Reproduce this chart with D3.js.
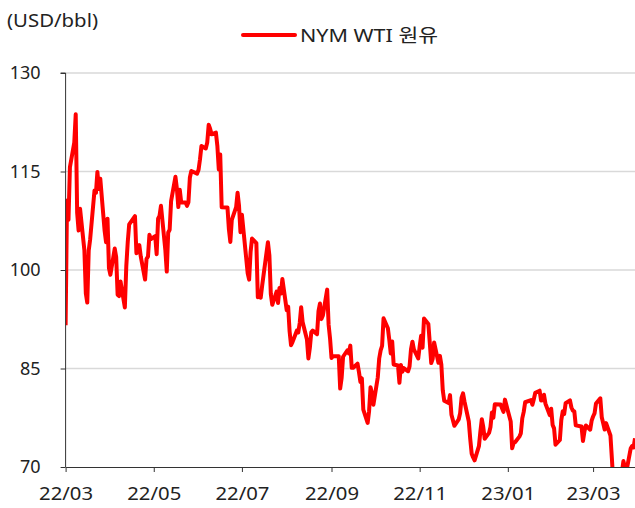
<!DOCTYPE html>
<html>
<head>
<meta charset="utf-8">
<script src="https://cdn.jsdelivr.net/npm/d3@7"></script>
<style>
  body { margin: 0; background: #fff; }
  svg text { font-family: "Noto Sans", "Noto Sans CJK KR", sans-serif; fill: #222; }
</style>
</head>
<body>
<div id="chart"></div>
<script>
// WTI daily close, USD/bbl
var mar22 = ["2022-03-01",91.6,"2022-03-02",110.6,"2022-03-03",107.67,"2022-03-04",115.68,"2022-03-07",119.4,"2022-03-08",123.7,"2022-03-09",108.7,"2022-03-10",106.02,"2022-03-11",109.33,"2022-03-14",103.01,"2022-03-15",96.44,"2022-03-16",95.04,"2022-03-17",102.98,"2022-03-18",104.7,"2022-03-21",112.12,"2022-03-22",111.76,"2022-03-23",114.93,"2022-03-24",112.34,"2022-03-25",113.9,"2022-03-28",105.96,"2022-03-29",104.24,"2022-03-30",107.82,"2022-03-31",100.28];
var apr22 = ["2022-04-01",99.27,"2022-04-04",103.28,"2022-04-05",101.96,"2022-04-06",96.23,"2022-04-07",96.03,"2022-04-08",98.26,"2022-04-11",94.29,"2022-04-12",100.6,"2022-04-13",104.25,"2022-04-14",106.95,"2022-04-18",108.21,"2022-04-19",102.56,"2022-04-20",102.75,"2022-04-21",103.79,"2022-04-22",102.07,"2022-04-25",98.54,"2022-04-26",101.7,"2022-04-27",102.02,"2022-04-28",105.36,"2022-04-29",104.69];
var may22 = ["2022-05-02",105.17,"2022-05-03",102.41,"2022-05-04",107.81,"2022-05-05",108.26,"2022-05-06",109.77,"2022-05-09",103.09,"2022-05-10",99.76,"2022-05-11",105.71,"2022-05-12",106.13,"2022-05-13",110.49,"2022-05-16",114.2,"2022-05-17",112.4,"2022-05-18",109.59,"2022-05-19",112.21,"2022-05-20",110.28,"2022-05-23",110.29,"2022-05-24",109.77,"2022-05-25",110.33,"2022-05-26",114.09,"2022-05-27",115.07,"2022-05-31",114.67];
var jun22 = ["2022-06-01",115.26,"2022-06-02",116.87,"2022-06-03",118.87,"2022-06-06",118.5,"2022-06-07",119.41,"2022-06-08",122.11,"2022-06-09",121.51,"2022-06-10",120.67,"2022-06-13",120.93,"2022-06-14",118.93,"2022-06-15",115.31,"2022-06-16",117.59,"2022-06-17",109.56,"2022-06-21",109.52,"2022-06-22",106.19,"2022-06-23",104.27,"2022-06-24",107.62,"2022-06-27",109.57,"2022-06-28",111.76,"2022-06-29",109.78,"2022-06-30",105.76];
var jul22 = ["2022-07-01",108.43,"2022-07-05",99.5,"2022-07-06",98.53,"2022-07-07",102.73,"2022-07-08",104.79,"2022-07-11",104.09,"2022-07-12",95.84,"2022-07-13",96.3,"2022-07-14",95.78,"2022-07-15",97.59,"2022-07-18",102.6,"2022-07-19",104.22,"2022-07-20",102.26,"2022-07-21",96.35,"2022-07-22",94.7,"2022-07-25",96.7,"2022-07-26",94.98,"2022-07-27",97.26,"2022-07-28",96.42,"2022-07-29",98.62];
var aug22 = ["2022-08-01",93.89,"2022-08-02",94.42,"2022-08-03",90.66,"2022-08-04",88.54,"2022-08-05",89.01,"2022-08-08",90.76,"2022-08-09",90.5,"2022-08-10",91.93,"2022-08-11",94.34,"2022-08-12",92.09,"2022-08-15",89.41,"2022-08-16",86.53,"2022-08-17",88.11,"2022-08-18",90.5,"2022-08-19",90.77,"2022-08-22",90.23,"2022-08-23",93.74,"2022-08-24",94.89,"2022-08-25",92.52,"2022-08-26",93.06,"2022-08-29",97.01,"2022-08-30",91.64,"2022-08-31",89.55];
var sep22 = ["2022-09-01",86.61,"2022-09-02",86.87,"2022-09-06",86.88,"2022-09-07",81.94,"2022-09-08",83.54,"2022-09-09",86.79,"2022-09-12",87.78,"2022-09-13",87.31,"2022-09-14",88.48,"2022-09-15",85.1,"2022-09-16",85.11,"2022-09-19",85.73,"2022-09-20",84.45,"2022-09-21",82.94,"2022-09-22",83.49,"2022-09-23",78.74,"2022-09-26",76.71,"2022-09-27",78.5,"2022-09-28",82.15,"2022-09-29",81.23,"2022-09-30",79.49];
var oct22 = ["2022-10-03",83.63,"2022-10-04",86.52,"2022-10-05",87.76,"2022-10-06",88.45,"2022-10-07",92.64,"2022-10-10",91.13,"2022-10-11",89.35,"2022-10-12",87.27,"2022-10-13",89.11,"2022-10-14",85.61,"2022-10-17",85.46,"2022-10-18",82.82,"2022-10-19",85.55,"2022-10-20",84.51,"2022-10-21",85.05,"2022-10-24",84.58,"2022-10-25",85.32,"2022-10-26",87.91,"2022-10-27",89.08,"2022-10-28",87.9,"2022-10-31",86.53];
var nov22 = ["2022-11-01",88.37,"2022-11-02",90.0,"2022-11-03",88.17,"2022-11-04",92.61,"2022-11-07",91.79,"2022-11-08",88.91,"2022-11-09",85.83,"2022-11-10",86.47,"2022-11-11",88.96,"2022-11-14",85.87,"2022-11-15",86.92,"2022-11-16",85.59,"2022-11-17",81.64,"2022-11-18",80.08,"2022-11-21",79.73,"2022-11-22",80.95,"2022-11-23",77.94,"2022-11-25",76.28,"2022-11-28",77.24,"2022-11-29",78.2,"2022-11-30",80.55];
var dec22 = ["2022-12-01",81.22,"2022-12-02",79.98,"2022-12-05",76.93,"2022-12-06",74.25,"2022-12-07",72.01,"2022-12-08",71.46,"2022-12-09",71.02,"2022-12-12",73.17,"2022-12-13",75.39,"2022-12-14",77.28,"2022-12-15",76.11,"2022-12-16",74.29,"2022-12-19",75.19,"2022-12-20",76.09,"2022-12-21",78.29,"2022-12-22",77.49,"2022-12-23",79.56,"2022-12-27",79.53,"2022-12-28",78.96,"2022-12-29",78.4,"2022-12-30",80.26];
var jan23 = ["2023-01-03",76.93,"2023-01-04",72.84,"2023-01-05",73.67,"2023-01-06",73.77,"2023-01-09",74.63,"2023-01-10",75.12,"2023-01-11",77.41,"2023-01-12",78.39,"2023-01-13",79.86,"2023-01-17",80.18,"2023-01-18",79.48,"2023-01-19",80.33,"2023-01-20",81.31,"2023-01-23",81.62,"2023-01-24",80.13,"2023-01-25",80.15,"2023-01-26",81.01,"2023-01-27",79.68,"2023-01-30",77.9,"2023-01-31",78.87];
var feb23 = ["2023-02-01",76.41,"2023-02-02",75.88,"2023-02-03",73.39,"2023-02-06",74.11,"2023-02-07",77.14,"2023-02-08",78.47,"2023-02-09",78.06,"2023-02-10",79.72,"2023-02-13",80.14,"2023-02-14",79.06,"2023-02-15",78.59,"2023-02-16",78.49,"2023-02-17",76.34,"2023-02-21",76.16,"2023-02-22",73.95,"2023-02-23",75.39,"2023-02-24",76.32,"2023-02-27",75.68,"2023-02-28",77.05];
var mar23 = ["2023-03-01",77.69,"2023-03-02",78.16,"2023-03-03",79.68,"2023-03-06",80.46,"2023-03-07",77.58,"2023-03-08",76.66,"2023-03-09",75.72,"2023-03-10",76.68,"2023-03-13",74.8,"2023-03-14",71.33,"2023-03-15",67.61,"2023-03-16",68.35,"2023-03-17",66.74,"2023-03-20",67.64,"2023-03-21",69.33,"2023-03-22",70.9,"2023-03-23",69.96,"2023-03-24",69.26,"2023-03-27",72.81,"2023-03-28",73.2,"2023-03-29",72.97,"2023-03-30",74.37];

var yTicks = [70, 85, 100, 115, 130];
var xTicks = ["2022-03-01","2022-05-01","2022-07-01","2022-09-01","2022-11-01","2023-01-01","2023-03-01"];
var unitLabel = "(USD/bbl)";
var seriesName = "NYM WTI 원유";

var parse = d3.timeParse("%Y-%m-%d");
var data = [];
[mar22, apr22, may22, jun22, jul22, aug22, sep22, oct22, nov22, dec22, jan23, feb23, mar23].forEach(function (m) {
  for (var i = 0; i < m.length; i += 2) data.push({ date: parse(m[i]), value: m[i + 1] });
});

var width = 635, height = 508;
var margin = { top: 73, right: 0, bottom: 41, left: 65.6 };

var svg = d3.select("#chart").append("svg")
  .attr("width", width)
  .attr("height", height);

var x = d3.scaleTime()
  .domain([parse("2022-03-01"), parse("2023-03-30")])
  .range([margin.left, width - margin.right]);
var y = d3.scaleLinear()
  .domain([70, 130])
  .range([height - margin.bottom, margin.top]);

// gridlines
svg.append("g")
  .selectAll("line")
  .data(yTicks.filter(function (d) { return d > 70; }))
  .enter()
  .append("line")
  .attr("x1", margin.left)
  .attr("x2", width - margin.right)
  .attr("y1", function (d) { return y(d); })
  .attr("y2", function (d) { return y(d); })
  .style("stroke", "#d9d9d9")
  .style("stroke-width", 1.5);

// line
svg.append("clipPath").attr("id", "plotclip")
  .append("rect")
  .attr("x", margin.left)
  .attr("y", 0)
  .attr("width", width - margin.left)
  .attr("height", height - margin.bottom);

var line = d3.line()
  .x(function (d) { return x(d.date); })
  .y(function (d) { return y(d.value); });

svg.append("path")
  .datum(data)
  .attr("clip-path", "url(#plotclip)")
  .attr("d", line)
  .style("fill", "none")
  .style("stroke", "#ff0000")
  .style("stroke-width", 4)
  .style("stroke-linejoin", "round");

// axes
var yAxis = d3.axisLeft(y).tickValues(yTicks).tickSize(5).tickPadding(20);
var gy = svg.append("g")
  .attr("transform", "translate(" + margin.left + ",0)")
  .call(yAxis);
gy.selectAll("text").style("font-size", "18px");

var xAxis = d3.axisBottom(x)
  .tickValues(xTicks.map(parse))
  .tickFormat(d3.timeFormat("%y/%m"))
  .tickSize(5)
  .tickSizeOuter(0)
  .tickPadding(15);
var gx = svg.append("g")
  .attr("transform", "translate(0," + (height - margin.bottom) + ")")
  .call(xAxis);
gx.selectAll("text")
  .style("font-size", "18px")
  .attr("textLength", 54)
  .attr("lengthAdjust", "spacingAndGlyphs");

[gx, gy].forEach(function (g) {
  g.select(".domain").style("stroke", "#333");
  g.selectAll(".tick line").style("stroke", "#333");
});
gy.select(".domain").attr("d", "M-5," + margin.top + "H0V" + (height - margin.bottom));

// unit label
svg.append("text")
  .attr("x", 7)
  .attr("y", 27)
  .attr("textLength", 91)
  .attr("lengthAdjust", "spacingAndGlyphs")
  .style("font-size", "18px")
  .text(unitLabel);

// legend
var legend = svg.append("g").attr("class", "legend");
legend.append("line")
  .attr("x1", 243).attr("x2", 295)
  .attr("y1", 35).attr("y2", 35)
  .style("stroke", "#ff0000")
  .style("stroke-width", 4)
  .style("stroke-linecap", "round");
legend.append("text")
  .attr("x", 300)
  .attr("y", 42)
  .attr("textLength", 138)
  .attr("lengthAdjust", "spacingAndGlyphs")
  .style("font-size", "18px")
  .text(seriesName);
</script>
</body>
</html>
